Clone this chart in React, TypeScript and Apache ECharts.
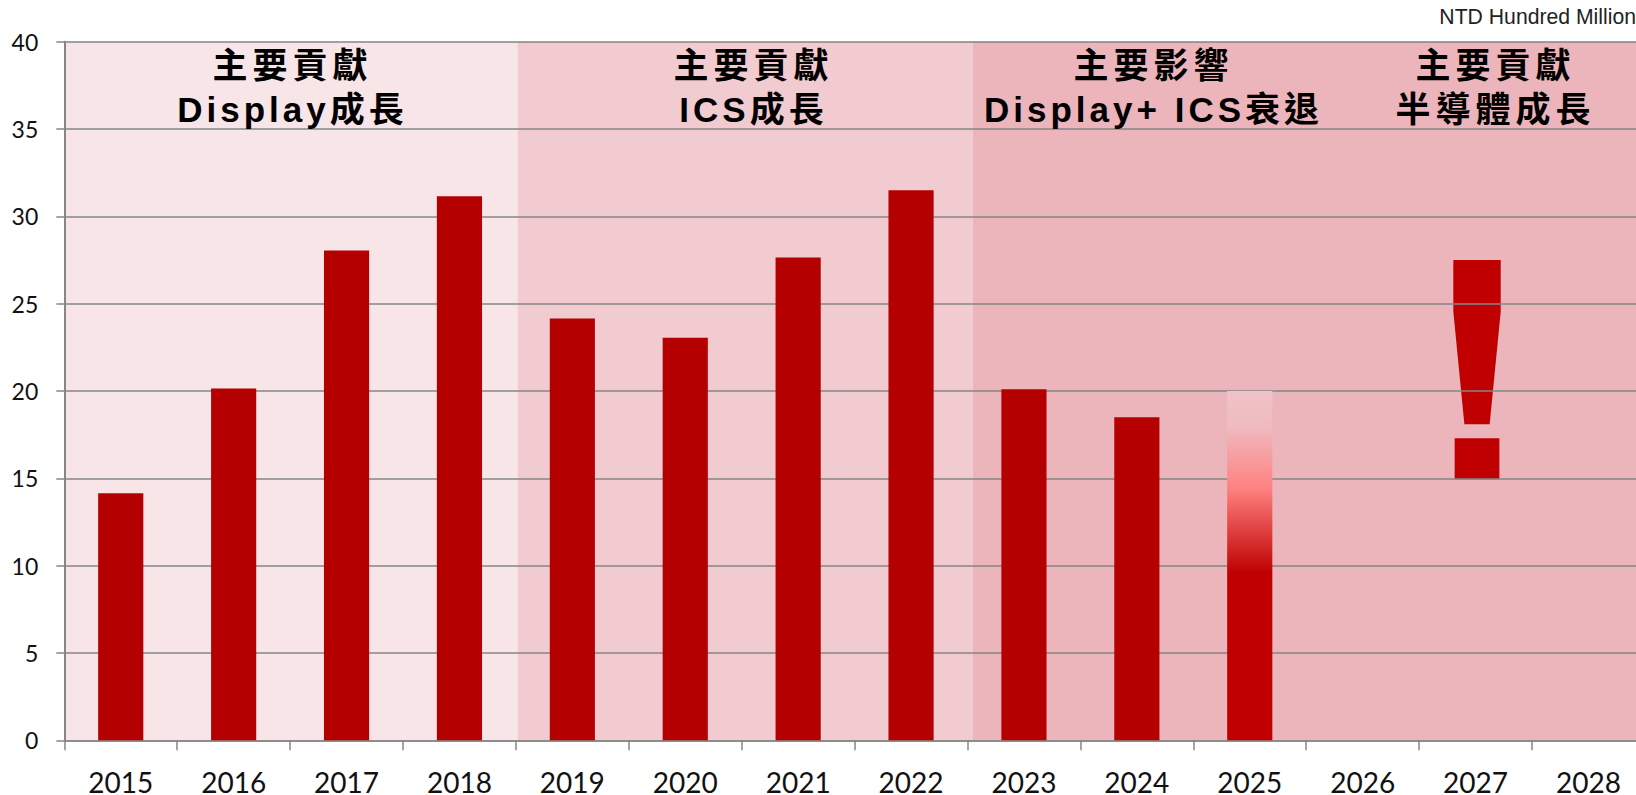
import React, { useEffect, useRef } from "react";
import * as echarts from "echarts";

const years = ["2015","2016","2017","2018","2019","2020","2021","2022","2023","2024","2025","2026","2027","2028"];
const revenue = [14.15, 20.15, 28.05, 31.15, 24.15, 23.05, 27.65, 31.5, 20.1, 18.5, 20, null, null, null];
const projectedYear = "2025";
const bandStarts = [0, 4.014, 8.044];
const bandEnds = [4.014, 8.044, 14];
const bandColors = ["#F8E5E7", "#F1CBD0", "#ECB4BB"];
const exclaimCenter = [12.513];
const exclaimLevels = { top: 27.5, shoulder: 24.55, taper: 18.1, dotTop: 17.3, dotBottom: 14.95 };
const titles = [
  { cx: 292.5, lines: ["主要貢獻", "Display成長"] },
  { cx: 753.5, lines: ["主要貢獻", "ICS成長"] },
  { cx: 1153.5, lines: ["主要影響", "Display+ ICS衰退"] },
  { cx: 1495.5, lines: ["主要貢獻", "半導體成長"] },
];

const AXIS = "#868686";
const BAR = "#B40000";
const MARK = "#C00000";

export default function App() {
  const ref = useRef<HTMLDivElement>(null);
  useEffect(() => {
    const chart = echarts.init(ref.current!, null, { renderer: "svg" });
    const graphicTexts: any[] = [];
    titles.forEach((t) => {
      t.lines.forEach((line, i) => {
        graphicTexts.push({
          type: "text",
          x: t.cx,
          y: 65 + i * 44,
          z: 20,
          style: {
            text: line,
            fill: "#000",
            font: 'bold 35px "Liberation Sans", "Noto Sans CJK TC", sans-serif',
            textAlign: "center",
            textVerticalAlign: "middle",
          },
        });
      });
    });
    graphicTexts.push({
      type: "text",
      right: 0,
      top: 6,
      z: 20,
      style: {
        text: "NTD Hundred Million",
        fill: "#222",
        font: '21.2px "Liberation Sans", Arial, sans-serif',
      },
    });
    chart.setOption({
      animation: false,
      backgroundColor: "#fff",
      grid: { left: 64.3, top: 41.7, width: 1580.6, height: 698.6, containLabel: false, outerBoundsMode: "none" },
      xAxis: [
        {
          type: "category",
          data: years,
          boundaryGap: true,
          axisLine: { show: true, lineStyle: { color: AXIS, width: 1.5 } },
          axisTick: { show: true, length: 10, alignWithLabel: false, lineStyle: { color: AXIS, width: 1.5 } },
          axisLabel: { interval: 0, margin: 30, lineHeight: 24, color: "#111", fontSize: 28, fontFamily: "Lato" },
          splitLine: { show: false },
        },
        { type: "value", min: 0, max: 14, show: false },
      ],
      yAxis: {
        type: "value",
        min: 0,
        max: 40,
        interval: 5,
        axisLine: { show: true, lineStyle: { color: AXIS, width: 2 } },
        axisTick: { show: true, length: 8, lineStyle: { color: AXIS, width: 1.5 } },
        axisLabel: { margin: 26, color: "#111", fontSize: 23, fontFamily: "Lato" },
        splitLine: { show: true, lineStyle: { color: AXIS, width: 1.7 } },
      },
      series: [
        {
          type: "custom",
          xAxisIndex: 1,
          z: -2,
          silent: true,
          clip: false,
          data: bandStarts.map((s, i) => [s, bandEnds[i], i]),
          encode: { x: [0, 1] },
          renderItem: (_p: any, api: any) => {
            const a = api.coord([api.value(0), 40]);
            const b = api.coord([api.value(1), 0]);
            return {
              type: "rect",
              shape: { x: a[0], y: a[1], width: b[0] - a[0], height: b[1] - a[1] },
              style: { fill: bandColors[api.value(2)] },
            };
          },
        },
        {
          type: "custom",
          xAxisIndex: 1,
          z: -1,
          silent: true,
          data: exclaimCenter.map((c) => [c]),
          encode: { x: 0 },
          renderItem: (_p: any, api: any) => {
            const c = api.value(0);
            const L = exclaimLevels;
            const pt = (dx: number, v: number) => api.coord([c + dx, v]);
            return {
              type: "group",
              children: [
                {
                  type: "polygon",
                  shape: {
                    points: [
                      pt(-0.21, L.top),
                      pt(0.21, L.top),
                      pt(0.21, L.shoulder),
                      pt(0.112, L.taper),
                      pt(-0.112, L.taper),
                      pt(-0.21, L.shoulder),
                    ],
                  },
                  style: { fill: MARK },
                },
                {
                  type: "polygon",
                  shape: {
                    points: [
                      pt(-0.198, L.dotTop),
                      pt(0.198, L.dotTop),
                      pt(0.198, L.dotBottom),
                      pt(-0.198, L.dotBottom),
                    ],
                  },
                  style: { fill: MARK },
                },
              ],
            };
          },
        },
        {
          type: "bar",
          barWidth: "40%",
          z: 2,
          data: revenue.map((v, i) =>
            years[i] === projectedYear
              ? {
                  value: v,
                  itemStyle: {
                    color: new echarts.graphic.LinearGradient(0, 0, 0, 1, [
                      { offset: 0, color: "#EFC2C7" },
                      { offset: 0.1, color: "#EFBBC0" },
                      { offset: 0.28, color: "#FF8080" },
                      { offset: 0.52, color: "#C00000" },
                      { offset: 1, color: "#C00000" },
                    ]),
                  },
                }
              : { value: v, itemStyle: { color: BAR } }
          ),
        },
      ],
      graphic: { elements: graphicTexts },
    });
    ref.current!.querySelectorAll("text").forEach((el) => {
      if ((el.getAttribute("style") || "").includes("35px")) {
        const hasLatin = /[A-Za-z]/.test(el.textContent || "");
        (el as SVGTextElement).style.letterSpacing = hasLatin ? "4px" : "5px";
      }
    });
    return () => chart.dispose();
  }, []);
  return (
    <div
      ref={ref}
      style={{ position: "absolute", left: 0, top: 0, width: 1636, height: 795, background: "#fff", overflow: "hidden" }}
    />
  );
}
